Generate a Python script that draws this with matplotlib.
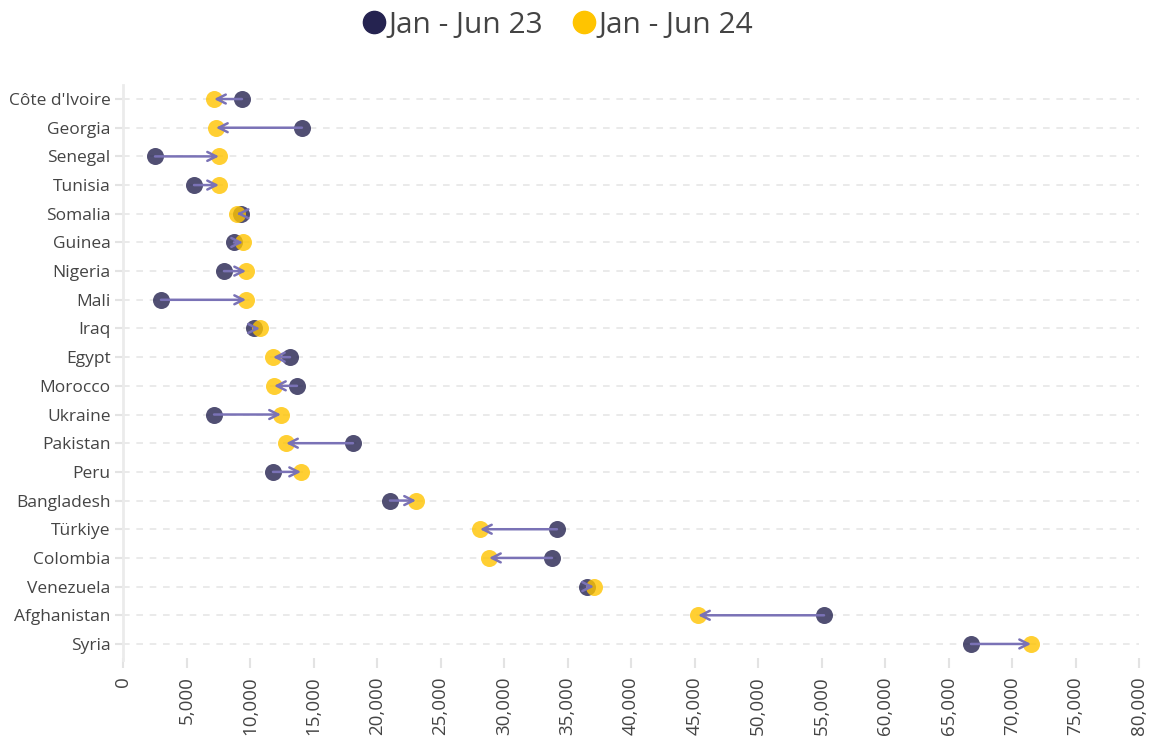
import matplotlib.pyplot as plt
from matplotlib.lines import Line2D
from matplotlib.ticker import FuncFormatter

countries = ["Côte d'Ivoire", "Georgia", "Senegal", "Tunisia", "Somalia", "Guinea",
             "Nigeria", "Mali", "Iraq", "Egypt", "Morocco", "Ukraine", "Pakistan",
             "Peru", "Bangladesh", "Türkiye", "Colombia", "Venezuela", "Afghanistan", "Syria"]
jan_jun_23 = [9370, 14090, 2520, 5590, 9300, 8740, 7950, 2990, 10320, 13150,
              13700, 7170, 18110, 11810, 21020, 34170, 33780, 36540, 55200, 66770]
jan_jun_24 = [7170, 7320, 7560, 7560, 8950, 9450, 9690, 9690, 10790, 11810,
              11890, 12440, 12840, 14020, 23070, 28110, 28820, 37090, 45280, 71500]

navy = '#252350'
gold = '#ffc400'
arrow_col = '#7a72b6'

plt.rcParams['font.family'] = ['Open Sans', 'DejaVu Sans']

fig = plt.figure(figsize=(11.53, 7.42), dpi=100)
ax = fig.add_axes([123 / 1153, 1 - 658.3 / 742, (1139 - 123) / 1153, (658.3 - 84.7) / 742])

ypos = list(range(len(countries)))
for y in ypos:
    ax.axhline(y, color='#e6e6e6', lw=1.2, ls=(0, (4, 4)), zorder=0)

ax.scatter(jan_jun_23, ypos, s=150, color=navy, alpha=0.8, lw=0, zorder=2)
ax.scatter(jan_jun_24, ypos, s=150, color=gold, alpha=0.8, lw=0, zorder=3)

for y, a, b in zip(ypos, jan_jun_23, jan_jun_24):
    ax.annotate('', xy=(b, y), xytext=(a, y),
                arrowprops=dict(arrowstyle='->', color=arrow_col, lw=1.8,
                                shrinkA=0, shrinkB=0, mutation_scale=16),
                zorder=4)

ax.set_xlim(0, 80000)
ax.set_ylim(len(countries) - 0.5, -0.5)
ax.set_yticks(ypos)
ax.set_yticklabels(countries, fontsize=12.5, color='#444444')
ax.set_xticks(range(0, 80001, 5000))
ax.xaxis.set_major_formatter(FuncFormatter(lambda v, p: f'{int(v):,}'))
ax.tick_params(axis='x', labelrotation=90, labelsize=13.5, labelcolor='#444444',
               color='#e3e3e3', length=7, width=1.5, pad=6)
ax.tick_params(axis='y', color='#e3e3e3', length=6, width=1.5, pad=3)

for s in ['top', 'right', 'bottom']:
    ax.spines[s].set_visible(False)
ax.spines['left'].set_color('#ebebeb')
ax.spines['left'].set_linewidth(2)
ax.spines['left'].set_bounds(len(countries) - 0.5 + 0.05, -0.5)

handles = [Line2D([], [], marker='o', ls='', color=navy, markersize=16),
           Line2D([], [], marker='o', ls='', color=gold, markersize=16)]
fig.legend(handles, ['Jan - Jun 23', 'Jan - Jun 24'], loc='upper center',
           bbox_to_anchor=(0.476, 1.022), ncol=2, frameon=False, fontsize=21.5,
           handletextpad=-0.5, columnspacing=0.35, labelcolor='#444444')

fig.savefig('out.png', dpi=100)
